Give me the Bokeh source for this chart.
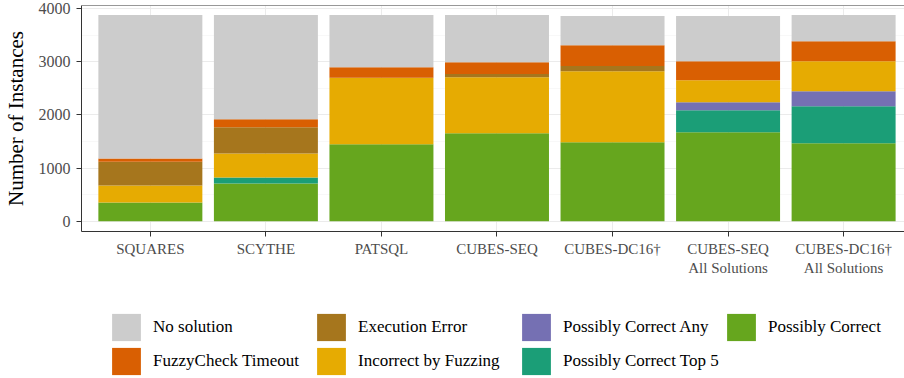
from bokeh.plotting import figure
from bokeh.layouts import column
from bokeh.models import Range1d, FixedTicker, Legend, LegendItem, ColumnDataSource, Span
from bokeh.embed import file_html
from bokeh.resources import INLINE

# Synthesizers compared (x categories) and their axis labels
methods = ["Squares", "Scythe", "PatSQL", "Cubes-Seq", "Cubes-DC16†",
           "Cubes-Seq All Solutions", "Cubes-DC16† All Solutions"]
tick_labels = ["SQUARES", "SCYTHE", "PATSQL", "CUBES-SEQ", "CUBES-DC16†",
               "CUBES-SEQ\nAll Solutions", "CUBES-DC16†\nAll Solutions"]

# Instance counts per outcome, stacked bottom to top
possibly_correct = [353, 711, 1447, 1655, 1485, 1674, 1466]
possibly_correct_top5 = [0, 113, 0, 0, 0, 415, 698]
possibly_correct_any = [0, 0, 0, 0, 0, 151, 283]
incorrect_by_fuzzing = [320, 453, 1251, 1056, 1340, 415, 566]
execution_error = [447, 491, 4, 63, 100, 0, 0]
fuzzycheck_timeout = [63, 151, 198, 220, 390, 358, 377]
no_solution = [2698, 1962, 981, 887, 547, 849, 491]

y_ticks = [0, 1000, 2000, 3000, 4000]
y_minor = [500, 1500, 2500, 3500]

stack_keys = ["pc", "top5", "any", "incorrect", "exec", "timeout", "none"]
stack_colors = ["#66A61E", "#1B9E77", "#7570B3", "#E6AB02", "#A6761D", "#D95F02", "#CCCCCC"]
legend_order = [("No solution", "none"), ("FuzzyCheck Timeout", "timeout"),
                ("Execution Error", "exec"), ("Incorrect by Fuzzing", "incorrect"),
                ("Possibly Correct Any", "any"), ("Possibly Correct Top 5", "top5"),
                ("Possibly Correct", "pc")]

xs = list(range(len(methods)))
source = ColumnDataSource(dict(
    x=xs, pc=possibly_correct, top5=possibly_correct_top5, any=possibly_correct_any,
    incorrect=incorrect_by_fuzzing, exec=execution_error, timeout=fuzzycheck_timeout,
    none=no_solution))

SERIF = "Liberation Serif"
BORDER = "#333333"

# --- bar chart ---
p = figure(width=904, height=280, output_backend="svg", toolbar_location=None,
           x_range=Range1d(-0.596, 6.527), y_range=Range1d(-194, 4062),
           min_border_left=79, min_border_right=0, min_border_top=5, min_border_bottom=49)
p.background_fill_color = "white"
p.border_fill_color = "white"
p.outline_line_color = None
# panel border along the top (the right side runs off the page)
p.add_layout(Span(location=p.y_range.end, dimension="width",
                  line_color=BORDER, line_width=1))

p.vbar_stack(stack_keys, x="x", width=0.9, source=source,
             fill_color=stack_colors, line_color=None)

p.xaxis.ticker = FixedTicker(ticks=xs)
p.xaxis.major_label_overrides = {i: lab for i, lab in zip(xs, tick_labels)}
p.yaxis.ticker = FixedTicker(ticks=y_ticks, minor_ticks=y_minor)
p.yaxis.axis_label = "Number of Instances"

for ax in (p.xaxis[0], p.yaxis[0]):
    ax.axis_line_color = BORDER
    ax.axis_line_width = 1
    ax.major_tick_line_color = BORDER
    ax.major_tick_out = 5
    ax.major_tick_in = 0
    ax.minor_tick_line_color = None
    ax.major_label_text_font = SERIF
    ax.major_label_text_color = "#4D4D4D"

p.xaxis.major_label_text_font_size = "15px"
p.xaxis.major_label_standoff = 4
p.yaxis.major_label_text_font_size = "16px"
p.yaxis.major_label_standoff = 6
p.yaxis.axis_label_text_font = SERIF
p.yaxis.axis_label_text_font_size = "21px"
p.yaxis.axis_label_text_font_style = "normal"
p.yaxis.axis_label_text_color = "black"
p.yaxis.axis_label_standoff = 8

p.xgrid.grid_line_color = "#EBEBEB"
p.ygrid.grid_line_color = "#EBEBEB"
p.ygrid.minor_grid_line_color = "#F3F3F3"
p.ygrid.minor_grid_line_width = 0.6

# --- legend strip underneath the chart ---
lg = figure(width=904, height=98, output_backend="svg", toolbar_location=None,
            x_range=Range1d(-0.596, 6.527), y_range=Range1d(0, 1),
            x_axis_type=None, y_axis_type=None,
            min_border_left=0, min_border_right=0, min_border_top=0, min_border_bottom=0)
lg.outline_line_color = None
lg.background_fill_color = "white"
lg.border_fill_color = "white"
lg.xgrid.visible = False
lg.ygrid.visible = False

# hidden copies of the stacks, used only as legend keys
proxies = lg.vbar_stack(stack_keys, x="x", width=0.9, source=source,
                        fill_color=stack_colors, line_color=None, visible=False)
keys = dict(zip(stack_keys, proxies))

legend = Legend(
    items=[LegendItem(label=name, renderers=[keys[k]]) for name, k in legend_order],
    location=(27, 0), orientation="vertical", ncols=4,
    glyph_width=36, glyph_height=34, spacing=0, label_standoff=9, label_width=160,
    padding=0, margin=0, border_line_color=None, background_fill_alpha=0,
    label_text_font=SERIF, label_text_font_size="17px", label_text_color="black")
lg.add_layout(legend)

layout = column(p, lg, spacing=0)
open("out.html", "w").write(file_html(layout, INLINE))
